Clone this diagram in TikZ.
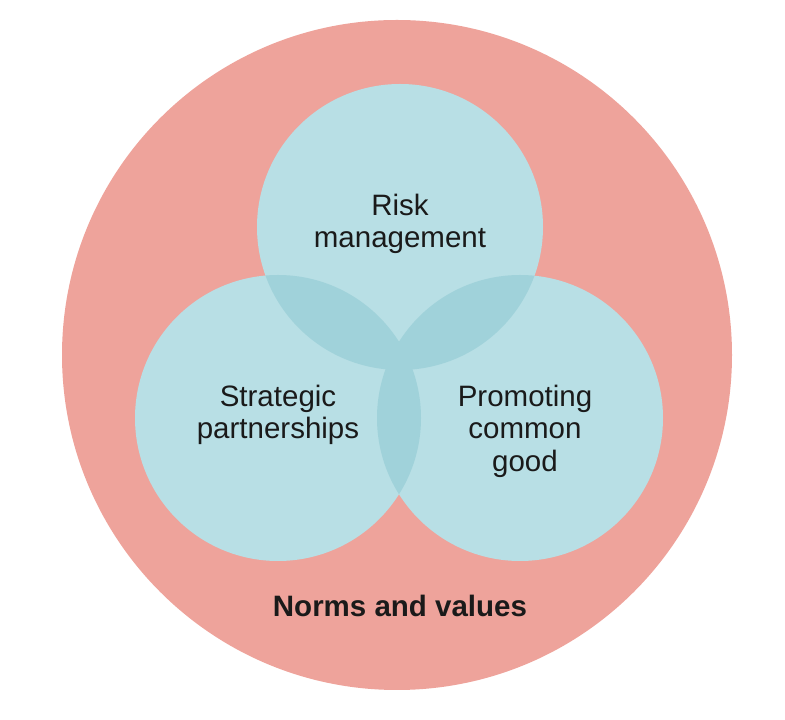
\documentclass[tikz,border=0pt]{standalone}
\usepackage{fontspec}
\setmainfont{Liberation Sans}
\usetikzlibrary{positioning}

\definecolor{normred}{HTML}{EEA39B}
\definecolor{areablue}{HTML}{B8DFE5}
\definecolor{overlapblue}{HTML}{A0D2DA}
\definecolor{textdark}{HTML}{1A1A1A}

\begin{document}
\begin{tikzpicture}[x=1pt,y=1pt,
  label/.style={text=textdark,align=center,font=\fontsize{29.5}{32.5}\selectfont},
  boldlabel/.style={label,font=\fontsize{29.5}{32.5}\selectfont\bfseries}]
\useasboundingbox (0,0) rectangle (785,720);

% centres of the circles
\coordinate (norms) at (397,365);
\coordinate (risk) at (400,493);
\coordinate (strat) at (278,302);
\coordinate (common) at (520,302);

\fill[normred] (norms) circle (335);
\fill[areablue] (risk) circle (143);
\fill[areablue] (strat) circle (143);
\fill[areablue] (common) circle (143);

% overlaps
\begin{scope}
\clip (risk) circle (143);
\fill[overlapblue] (strat) circle (143);
\fill[overlapblue] (common) circle (143);
\end{scope}
\begin{scope}
\clip (strat) circle (143);
\fill[overlapblue] (common) circle (143);
\end{scope}

\node[label] (risklabel) at (400,496) {Risk\\management};
\node[label] (stratlabel) at (278,305) {Strategic\\partnerships};
\node[label] (commonlabel) at (525,289) {Promoting\\common\\good};
\node[boldlabel] (normslabel) at (400,114) {Norms and values};
\end{tikzpicture}
\end{document}
